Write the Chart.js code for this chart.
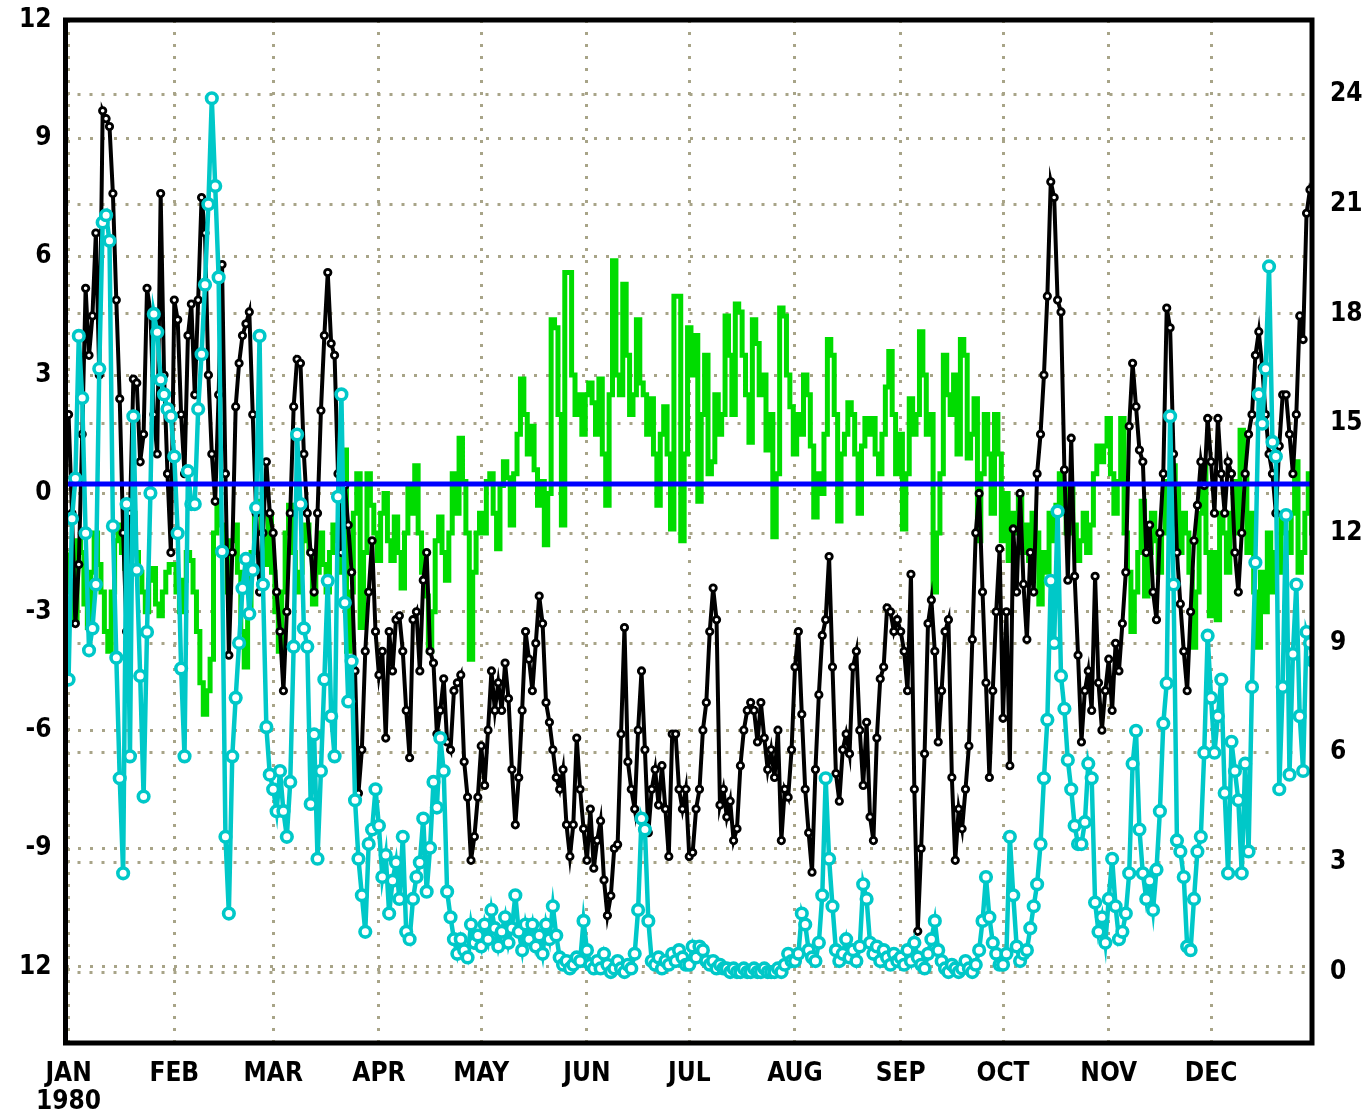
<!DOCTYPE html>
<html>
<head>
<meta charset="utf-8">
<script src="https://cdn.jsdelivr.net/npm/chart.js@4.4.1/dist/chart.umd.min.js"></script>
<style>
html,body{margin:0;padding:0;background:#ffffff;overflow:hidden;}
canvas{display:block;}
</style>
</head>
<body>
<canvas id="c" width="1371" height="1119"></canvas>
<script>
// ---- categories / ticks ----
const monthStarts = [0,31,60,91,121,152,182,213,244,274,305,335];
const monthLabels = [['JAN','1980'],'FEB','MAR','APR','MAY','JUN','JUL','AUG','SEP','OCT','NOV','DEC'];
const leftTicks = [-12,-9,-6,-3,0,3,6,9,12];
const leftTickLabels = ['12','-9','-6','-3','0','3','6','9','12'];
const rightTicks = [0,3,6,9,12,15,18,21,24];
const rightTickLabels = ['0','3','6','9','12','15','18','21','24'];

// ---- series (daily, 1980: 366 days) ----
const blackSeries = [
// Jan
2.0,-0.5,-3.3,-1.8,1.5,5.2,3.5,4.5,6.6,3.0,9.7,9.5,9.3,7.6,4.9,2.4,-1.0,-3.5,-0.5,2.9,2.8,0.8,1.5,5.2,4.6,2.0,1.0,7.6,3.0,0.5,-1.5,
// Feb
4.9,4.4,2.0,0.5,4.0,4.8,2.5,4.9,7.5,6.6,3.0,1.0,-0.2,2.5,5.8,0.5,-4.1,-1.5,2.2,3.3,4.0,4.3,4.6,2.0,-0.5,-2.5,-1.0,0.8,-0.5,
// Mar
-1.0,-2.5,-3.5,-5.0,-3.0,-0.5,2.2,3.4,3.3,1.0,-0.5,-1.5,-2.5,-0.5,2.1,4.0,5.6,3.8,3.5,0.5,-1.5,0.2,-0.8,-2.0,-4.5,-7.6,-6.5,-4.0,-2.5,-1.2,-3.5,
// Apr
-4.6,-4.0,-6.2,-3.5,-4.5,-3.2,-3.1,-4.0,-5.5,-6.7,-3.2,-3.0,-4.5,-2.2,-1.5,-4.0,-4.3,-6.1,-5.5,-4.7,-6.3,-6.5,-5.0,-4.8,-4.6,-6.8,-7.7,-9.3,-8.7,-7.7,
// May
-6.4,-7.4,-6.0,-4.5,-5.5,-4.8,-5.5,-4.3,-5.2,-7.0,-8.4,-7.2,-5.5,-3.5,-4.2,-5.0,-3.8,-2.6,-3.3,-5.3,-5.8,-6.5,-7.2,-7.5,-7.0,-8.4,-9.2,-8.4,-6.2,-7.5,-8.5,
// Jun
-9.3,-8.0,-9.5,-8.8,-8.3,-9.8,-10.7,-10.2,-9.0,-8.9,-6.1,-3.4,-6.8,-7.5,-8.0,-6.0,-4.5,-6.5,-8.6,-7.5,-7.0,-7.9,-6.9,-8.0,-9.2,-6.1,-6.1,-7.5,-8.0,-7.5,
// Jul
-9.2,-9.1,-8.0,-7.5,-6.0,-5.3,-3.5,-2.4,-3.2,-7.9,-7.5,-8.2,-7.8,-8.8,-8.5,-6.9,-6.0,-5.5,-5.3,-5.5,-6.3,-5.3,-6.2,-7.0,-6.5,-7.2,-6.0,-8.8,-7.5,-7.7,-6.5,
// Aug
-4.4,-3.5,-5.6,-7.5,-8.6,-9.6,-7.0,-5.1,-3.6,-3.2,-1.6,-4.4,-7.1,-7.8,-6.5,-6.1,-6.6,-4.4,-4.0,-6.0,-7.4,-5.8,-8.2,-8.8,-6.2,-4.7,-4.4,-2.9,-3.0,-3.5,-3.2,
// Sep
-3.5,-4.0,-5.0,-2.05,-7.5,-11.1,-9.0,-6.6,-3.3,-2.7,-4.0,-6.3,-5.0,-3.5,-3.2,-7.2,-9.3,-8.0,-8.5,-7.5,-6.4,-3.7,-1.0,0.0,-2.5,-4.8,-7.2,-5.0,-3.0,-1.4,
// Oct
-5.7,-3.0,-6.9,-0.9,-2.5,0.0,-2.3,-3.7,-1.5,-2.5,0.5,1.5,3.0,5.0,7.9,7.5,4.9,4.6,0.6,-2.2,1.4,-2.1,-4.1,-6.3,-5.0,-4.5,-5.5,-2.1,-4.8,-6.0,-5.0,
// Nov
-4.2,-5.5,-3.8,-4.5,-3.3,-2.0,1.7,3.3,2.2,1.1,0.8,-1.5,-0.8,-2.5,-3.2,-1.0,0.5,4.7,4.2,1.0,-1.5,-2.8,-4.0,-5.0,-3.0,-1.2,-0.3,0.8,0.2,1.9,
// Dec
0.8,-0.5,1.9,0.5,-0.5,0.8,0.5,-1.5,-2.5,-1.0,0.5,1.5,2.0,3.5,4.1,3.2,2.0,1.0,0.5,-0.5,1.2,2.5,2.5,1.5,0.5,2.0,4.5,3.9,7.1,7.7,7.5
];

const cyanSeries = [
// Jan
8.0,12.4,13.5,17.4,15.7,12.0,8.8,9.4,10.6,16.5,20.5,20.7,20.0,12.2,8.6,5.3,2.7,12.8,5.9,15.2,11.0,8.1,4.8,9.3,13.1,18.0,17.5,16.2,15.8,15.4,15.2,
// Feb
14.1,12.0,8.3,5.9,13.7,12.8,12.8,15.4,16.9,18.8,21.0,23.9,21.5,19.0,11.5,3.7,1.6,5.9,7.5,9.0,10.5,11.3,9.8,11.0,12.7,17.4,10.6,6.7,5.4,
// Mar
5.0,4.4,5.5,4.4,3.7,5.2,8.9,14.7,12.8,9.4,8.9,4.6,6.5,3.1,5.5,8.0,10.7,7.0,5.9,13.0,15.8,10.1,7.4,8.5,4.7,3.1,2.1,1.1,3.5,3.9,5.0,
// Apr
4.0,2.6,3.2,1.6,2.5,3.0,2.0,3.7,1.1,0.9,2.0,2.6,3.0,4.2,2.2,3.4,5.2,4.5,6.4,5.5,2.2,1.5,0.9,0.5,0.9,0.6,0.4,1.3,0.8,1.0,
// May
0.7,1.3,0.9,1.7,1.2,0.7,1.1,1.5,0.8,1.2,2.1,1.1,0.6,1.3,0.9,1.3,0.7,1.0,0.5,1.3,0.9,1.8,1.0,0.4,0.2,0.3,0.1,0.2,0.4,0.3,1.4,
// Jun
0.6,0.2,0.1,0.3,0.1,0.5,0.2,0.0,0.1,0.3,0.1,0.0,0.2,0.1,0.5,1.7,4.2,3.9,1.4,0.3,0.2,0.4,0.1,0.3,0.2,0.5,0.3,0.6,0.4,0.2,
// Jul
0.2,0.7,0.4,0.7,0.6,0.3,0.2,0.3,0.1,0.2,0.1,0.1,0.0,0.1,0.0,0.0,0.1,0.0,0.0,0.1,0.0,0.0,0.1,0.0,0.0,0.0,0.1,0.0,0.2,0.5,0.3,
// Aug
0.3,0.5,1.6,1.3,0.6,0.4,0.3,0.8,2.1,5.3,3.1,1.8,0.6,0.3,0.5,0.9,0.4,0.6,0.3,0.7,2.4,2.0,0.8,0.5,0.7,0.3,0.6,0.4,0.2,0.5,0.3,
// Sep
0.4,0.2,0.6,0.3,0.8,0.4,0.2,0.1,0.5,0.9,1.4,0.6,0.3,0.1,0.0,0.2,0.1,0.0,0.1,0.3,0.1,0.0,0.2,0.6,1.4,2.6,1.5,0.8,0.5,0.2,
// Oct
0.2,0.5,3.7,2.1,0.7,0.3,0.5,0.6,1.2,1.8,2.4,3.5,5.3,6.9,10.7,9.0,12.6,8.1,7.2,5.8,5.0,4.0,3.5,3.5,4.1,5.7,5.3,1.9,1.1,1.5,0.8,
// Nov
2.0,3.1,1.8,0.9,1.1,1.6,2.7,5.7,6.6,3.9,2.7,2.0,2.5,1.7,2.8,4.4,6.8,7.9,15.2,10.6,3.6,3.3,2.6,0.7,0.6,2.0,3.3,3.7,6.0,9.2,
// Dec
7.5,6.0,7.0,8.0,4.9,2.7,6.3,5.5,4.7,2.7,5.7,3.3,7.8,11.2,15.8,15.0,16.5,19.3,14.5,14.1,5.0,7.8,12.5,5.4,8.7,10.6,7.0,5.5,9.3,9.0,8.5
];

const greenSeries = [
// Jan
-1.5,-2.5,-3.2,-1.2,-1.5,-2.8,-3.4,-2.0,-1.0,-1.8,-2.5,-3.5,-4.0,-2.5,-1.2,-0.8,-1.5,-1.9,-1.0,-0.5,-1.5,-2.0,-2.5,-3.0,-2.2,-1.9,-2.8,-3.1,-2.5,-2.0,-1.8,
// Feb
-1.8,-2.5,-3.0,-2.2,-1.5,-1.7,-2.5,-3.5,-4.8,-5.6,-5.0,-4.2,-1.0,-0.2,-0.8,-1.5,-2.5,-1.2,-0.8,-2.0,-3.5,-4.4,-3.0,-1.5,-0.5,-0.2,-1.0,-1.8,-0.5,
// Mar
-2.0,-3.0,-4.0,-2.5,-1.0,-0.3,-1.5,-2.5,-2.0,-1.2,-0.8,-1.5,-2.8,-2.0,-1.0,-1.8,-2.5,-1.5,-0.8,-1.2,-2.0,1.1,-4.0,-2.5,-0.5,0.5,-3.4,-1.5,0.5,-0.3,-1.0,
// Apr
-1.7,-0.5,0.0,-1.2,-1.7,-0.6,-1.5,-2.4,-1.0,0.2,-0.5,0.7,-1.0,-2.0,-2.6,-4.0,-3.0,-1.2,-0.6,-1.5,-2.2,-1.0,0.5,-0.5,1.4,0.3,-1.0,-4.2,-2.0,-1.0,
// May
-0.5,-1.0,0.3,0.5,-0.5,-1.4,0.2,0.8,0.4,-0.8,0.5,1.5,2.9,2.0,1.0,1.7,0.6,-0.3,0.3,-1.3,0.0,4.4,4.2,2.0,-0.8,5.6,5.6,3.0,2.0,2.5,1.5,
// Jun
2.5,2.8,2.3,1.5,2.9,1.0,-0.3,2.5,5.9,3.0,2.5,5.3,3.5,2.0,2.5,4.4,2.8,2.5,1.5,2.4,1.0,-0.3,1.5,2.2,1.0,-0.9,5.0,5.0,-1.2,1.0,
// Jul
4.2,3.0,4.0,-0.2,2.0,3.5,0.5,0.8,2.5,1.5,2.0,4.5,3.5,2.0,4.8,4.6,3.5,2.5,1.3,4.4,3.8,2.5,3.0,1.1,2.0,-1.1,0.5,4.7,4.5,3.0,2.2,
// Aug
1.0,2.0,1.5,3.0,2.5,1.2,-0.6,0.5,0.0,1.5,3.9,3.5,2.0,-0.7,1.0,1.5,2.3,2.0,1.0,-0.5,1.2,1.9,1.5,1.9,1.0,0.5,1.5,2.7,3.6,2.0,0.5,
// Sep
1.5,-0.9,0.5,2.4,1.5,2.0,4.1,3.0,1.5,2.0,-2.5,-1.0,0.5,3.5,2.5,2.0,3.0,1.0,3.9,3.5,0.9,1.5,2.4,-1.2,0.5,2.0,1.0,-0.5,2.0,1.0,
// Oct
-1.2,0.0,-1.7,-0.5,-1.0,-0.1,-1.5,-0.8,-1.7,-0.5,-1.0,-2.8,-1.5,-2.0,-0.5,-1.2,-0.3,0.5,-0.5,-1.0,0.2,-0.8,-1.7,-1.2,-0.5,-1.5,-0.8,0.5,1.2,0.8,1.2,
// Nov
1.9,0.5,-0.5,0.3,1.9,-1.0,-2.0,-3.5,-2.5,-1.5,-0.2,-2.6,-1.5,-0.5,-1.2,-2.0,-1.0,0.3,-0.5,0.7,0.2,-1.5,-0.5,-1.0,-2.0,-3.9,-2.5,-0.5,0.7,-1.5,
// Dec
-3.1,-1.5,-3.2,-0.5,-1.0,-2.0,-0.5,0.3,-1.0,1.6,0.5,-1.5,-0.5,-2.5,-3.9,-2.0,-3.0,-1.0,-2.5,-1.5,-2.0,-0.5,-1.0,-1.5,-0.5,0.8,-2.0,-1.5,-0.5,0.5,-1.0
];

const referenceLevel = [0.24];

// ---- axis ranges ----
const xRange = [-0.9, 364.6];
const leftRange = [-13.93, 12];
const rightRange = [-1.94, 26.04];

const toPoints = arr => arr.map((v, i) => ({x: i, y: v}));

const tickFont = {family: "'Liberation Sans Narrow','DejaVu Sans Condensed','Liberation Sans',sans-serif", size: 26, weight: 'bold', lineHeight: 1.05};
const gridColor = '#a8a488';

const framePlugin = {
  id: 'frame',
  afterDatasetsDraw(chart) {
    const a = chart.chartArea, c = chart.ctx;
    c.save();
    c.strokeStyle = '#000';
    c.lineWidth = 5;
    c.strokeRect(a.left, a.top, a.right - a.left, a.bottom - a.top);
    c.restore();
  }
};

const fixVertical = w => s => { s.width = w; s.paddingTop = 0; s.paddingBottom = 0; };

new Chart(document.getElementById('c').getContext('2d'), {
  type: 'line',
  data: {
    datasets: [
      {label: 'ref', data: [{x: xRange[0], y: referenceLevel[0]}, {x: xRange[1], y: referenceLevel[0]}],
       borderColor: '#0000ff', borderWidth: 5, pointRadius: 0, yAxisID: 'y', order: 0},
      {label: 'cyan', data: toPoints(cyanSeries), borderColor: '#00c8c8', borderWidth: 4.5,
       pointRadius: 5.3, pointBorderWidth: 3.6, pointBackgroundColor: '#ffffff', pointBorderColor: '#00c8c8',
       yAxisID: 'y2', order: 1, tension: 0},
      {label: 'black', data: toPoints(blackSeries), borderColor: '#000000', borderWidth: 4,
       pointRadius: 3.2, pointBorderWidth: 2.8, pointBackgroundColor: '#ffffff', pointBorderColor: '#000000',
       yAxisID: 'y', order: 2, tension: 0},
      {label: 'green', data: toPoints(greenSeries), borderColor: '#00dc00', borderWidth: 5,
       pointRadius: 0, stepped: 'middle', yAxisID: 'y', order: 3}
    ]
  },
  options: {
    responsive: false,
    animation: false,
    layout: {padding: {top: 20, left: 0, right: 0, bottom: 0}},
    plugins: {legend: {display: false}, tooltip: {enabled: false}},
    scales: {
      x: {
        type: 'linear', min: xRange[0], max: xRange[1],
        afterBuildTicks: s => { s.ticks = monthStarts.map(v => ({value: v})); },
        afterFit: s => { s.height = 76; s.paddingLeft = 0; s.paddingRight = 0; },
        ticks: {
          autoSkip: false, maxRotation: 0, padding: 18, color: '#000', font: tickFont,
          callback: (v, i) => monthLabels[i]
        },
        grid: {color: gridColor, lineWidth: 3, drawTicks: false},
        border: {display: false, dash: [3, 9]}
      },
      y: {
        position: 'left', min: leftRange[0], max: leftRange[1],
        afterBuildTicks: s => { s.ticks = leftTicks.map(v => ({value: v})); },
        afterFit: fixVertical(65.5),
        ticks: {
          padding: 14, color: '#000', font: tickFont,
          callback: (v, i) => leftTickLabels[i]
        },
        grid: {color: gridColor, lineWidth: 3, drawTicks: false},
        border: {display: false, dash: [3, 9]}
      },
      y2: {
        position: 'right', min: rightRange[0], max: rightRange[1],
        afterBuildTicks: s => { s.ticks = rightTicks.map(v => ({value: v})); },
        afterFit: fixVertical(59),
        ticks: {
          padding: 18, color: '#000', font: tickFont,
          callback: (v, i) => rightTickLabels[i]
        },
        grid: {color: gridColor, lineWidth: 3, drawTicks: false},
        border: {display: false, dash: [3, 9]}
      }
    }
  },
  plugins: [framePlugin]
});
</script>
</body>
</html>
